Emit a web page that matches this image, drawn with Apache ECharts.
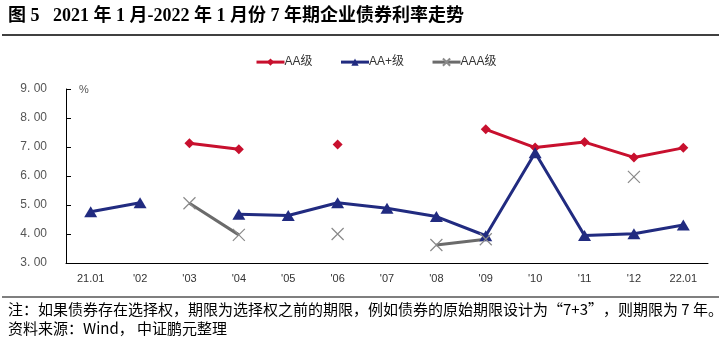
<!DOCTYPE html>
<html><head><meta charset="utf-8">
<script src="https://cdn.jsdelivr.net/npm/echarts@6/dist/echarts.min.js"></script>
<style>html,body{margin:0;padding:0;background:#fff}#c{width:721px;height:347px}</style>
</head><body><div id="c"></div>
<script>
const categories = ["21.01","'02","'03","'04","'05","'06","'07","'08","'09","'10","'11","'12","22.01"];
const yTicks = [3,4,5,6,7,8,9];
const seriesAA = [null,null,7.13,6.92,null,7.09,null,null,7.61,6.98,7.17,6.64,6.97];
const seriesAAplus = [4.77,5.08,null,4.68,4.64,5.08,4.89,4.60,3.94,6.80,3.95,4.01,4.31];
const seriesAAA = [null,null,5.06,3.97,null,4.00,null,3.62,3.82,null,null,5.97,null];

const chart = echarts.init(document.getElementById('c'));
const crossPath = 'path://M0,0L10,10M10,0L0,10';
chart.setOption({
  animation:false,
  textStyle:{fontFamily:'Arial, "Liberation Sans", "Noto Sans CJK SC"'},
  legend:{
    top:51, left:250, itemGap:27, itemWidth:28, itemHeight:9,
    lineStyle:{width:3},
    textStyle:{fontSize:12,color:'#333',padding:[0,0,0,-5]},
    data:['AA级','AA+级','AAA级']
  },
  grid:{left:66,right:13,top:89,bottom:84},
  xAxis:{type:'category',data:categories,boundaryGap:true,
    axisLine:{lineStyle:{color:'#000',width:1}},
    axisTick:{inside:true,length:5,lineStyle:{color:'#000'}},
    axisLabel:{color:'#333',fontSize:11,margin:10}},
  yAxis:{type:'value',min:3,max:9,interval:1,
    axisLine:{show:true,lineStyle:{color:'#000'}},
    axisTick:{show:true,inside:true,length:5,lineStyle:{color:'#000'}},
    splitLine:{show:false},
    axisLabel:{color:'#555',fontSize:12,margin:19,formatter:v=>v.toFixed(2).replace('.','. ')}},
  series:[
    {name:'AA级',type:'line',data:seriesAA,connectNulls:false,symbol:'diamond',symbolSize:10,
     lineStyle:{color:'#c8102e',width:3},itemStyle:{color:'#c8102e'}},
    {name:'AA+级',type:'line',data:seriesAAplus,connectNulls:false,symbol:'triangle',symbolSize:[13,11],
     lineStyle:{color:'#212b80',width:3},itemStyle:{color:'#212b80'}},
    {name:'AAA级',type:'line',data:seriesAAA,connectNulls:false,symbol:crossPath,symbolSize:12,
     lineStyle:{color:'#6b6b6b',width:3},itemStyle:{color:'none',borderColor:'#8a8a8a',borderWidth:1.2}}
  ],
  graphic:[
    {type:'text',left:8,top:7,style:{text:'图 5   2021 年 1 月-2022 年 1 月份 7 年期企业债券利率走势',font:'bold 18px "Liberation Serif", "Noto Sans CJK SC"',fill:'#000'}},
    {type:'line',shape:{x1:2,y1:35,x2:719,y2:35},style:{stroke:'#000',lineWidth:1.5}},
    {type:'text',left:79,top:84,style:{text:'%',font:'11px Arial',fill:'#555'}},
    {type:'line',shape:{x1:2,y1:297,x2:719,y2:297},style:{stroke:'#000',lineWidth:1.2}},
    {type:'text',left:8,top:302,style:{text:'注：如果债券存在选择权，期限为选择权之前的期限，例如债券的原始期限设计为“7+3”，则期限为 7 年。',font:'15px "Noto Sans CJK SC"',fill:'#000'}},
    {type:'text',left:8,top:321,style:{text:'资料来源：Wind， 中证鹏元整理',font:'15px "Noto Sans CJK SC"',fill:'#000'}}
  ]
});
</script></body></html>
